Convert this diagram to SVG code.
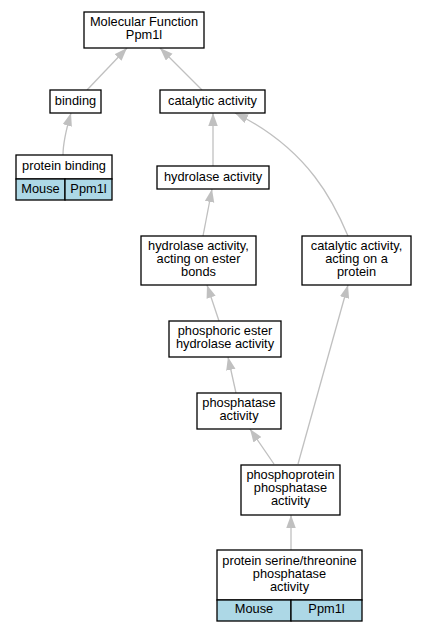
<svg xmlns="http://www.w3.org/2000/svg" width="425" height="632" viewBox="0 0 425 632">
<style>
.n rect{fill:#fff;stroke:#000;stroke-width:1.3}
.n rect.c{fill:#add8e6}
text{font-family:"Liberation Sans",Arial,sans-serif;font-size:12.8px;text-anchor:middle;fill:#000}
.e path{fill:none;stroke:#c0c0c0;stroke-width:1.3;marker-end:url(#a)}
</style>
<defs>
<marker id="a" markerUnits="userSpaceOnUse" markerWidth="14" markerHeight="10" refX="13" refY="4.75" orient="auto">
<path d="M0,0 L13,4.75 L0,9.5 z" fill="#c0c0c0"/>
</marker>
</defs>
<rect width="425" height="632" fill="#fff"/>
<g class="e" id="edges">
<path d="M87,90 L127,48"/>
<path d="M202,90 L160,48"/>
<path d="M63,155 C63,142 66,130 71,113"/>
<path d="M213,166 L213,113"/>
<path d="M348,236 C335,205 310,150 235,113"/>
<path d="M203,236 L212,189"/>
<path d="M219,321 L207,285"/>
<path d="M236,393 L228,357"/>
<path d="M274,464 L250,429"/>
<path d="M298,464 L348,285"/>
<path d="M291,550 L291,515"/>
</g>
<g class="n" id="mf"><rect x="84" y="12" width="120" height="36"/><text x="144" y="26">Molecular Function</text><text x="144" y="39">Ppm1l</text></g>
<g class="n" id="binding"><rect x="50" y="90" width="51" height="23"/><text x="75.5" y="105">binding</text></g>
<g class="n" id="catalytic"><rect x="160" y="90" width="105" height="23"/><text x="212.5" y="105">catalytic activity</text></g>
<g class="n" id="protein_binding"><rect x="16" y="155" width="96" height="24"/><rect class="c" x="16" y="179" width="49" height="21"/><rect class="c" x="65" y="179" width="47" height="21"/><text x="64" y="170">protein binding</text><text x="40.5" y="193">Mouse</text><text x="88.5" y="193">Ppm1l</text></g>
<g class="n" id="hydrolase"><rect x="157" y="166" width="112" height="23"/><text x="213" y="181">hydrolase activity</text></g>
<g class="n" id="hydrolase_ester"><rect x="141" y="236" width="115" height="49"/><text x="198.5" y="250">hydrolase activity,</text><text x="198.5" y="263">acting on ester</text><text x="198.5" y="276">bonds</text></g>
<g class="n" id="catalytic_protein"><rect x="302" y="236" width="109" height="49"/><text x="356.5" y="250">catalytic activity,</text><text x="356.5" y="263">acting on a</text><text x="356.5" y="276">protein</text></g>
<g class="n" id="phosphoric"><rect x="169" y="321" width="112" height="36"/><text x="225" y="335">phosphoric ester</text><text x="225" y="348">hydrolase activity</text></g>
<g class="n" id="phosphatase"><rect x="197" y="393" width="84" height="36"/><text x="239" y="407">phosphatase</text><text x="239" y="420">activity</text></g>
<g class="n" id="phosphoprotein"><rect x="241" y="465" width="99" height="50"/><text x="290.5" y="479">phosphoprotein</text><text x="290.5" y="492">phosphatase</text><text x="290.5" y="505">activity</text></g>
<g class="n" id="serthr"><rect x="217" y="550" width="145" height="50"/><rect class="c" x="217" y="600" width="74" height="21"/><rect class="c" x="291" y="600" width="71" height="21"/><text x="289.5" y="565">protein serine/threonine</text><text x="289.5" y="578">phosphatase</text><text x="289.5" y="591">activity</text><text x="254" y="613">Mouse</text><text x="326.5" y="613">Ppm1l</text></g>
</svg>
